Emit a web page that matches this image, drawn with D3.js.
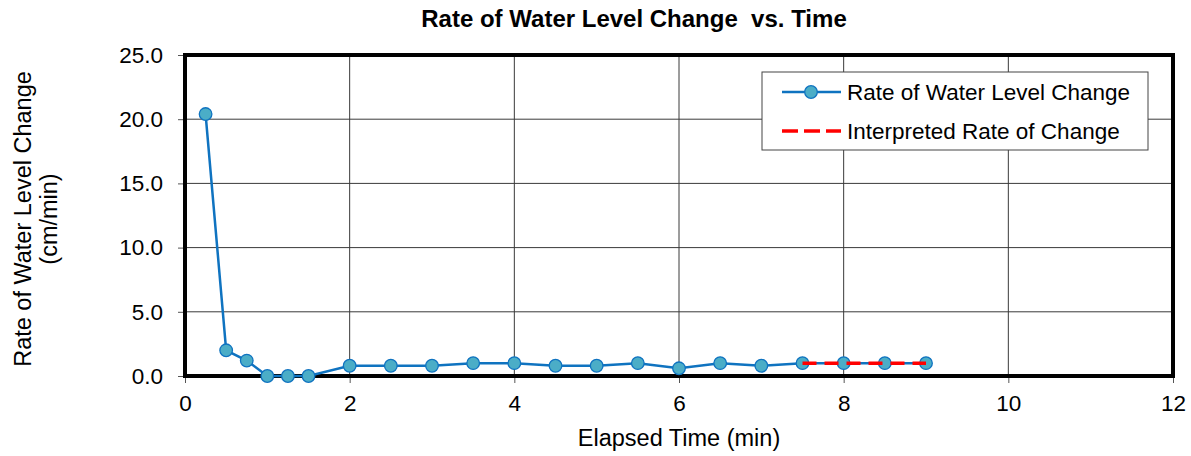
<!DOCTYPE html>
<html lang="en">
<head>
<meta charset="UTF-8" />
<title>Rate of Water Level Change vs. Time</title>
<script src="https://d3js.org/d3.v7.min.js"></script>
<style>
    body { margin: 0; background: #fff; }
    svg text { font-family: Arial, "Liberation Sans", sans-serif; fill: #000; }
</style>
</head>
<body>
<svg id="chart"></svg>
<script>
    const elapsed = [0.25, 0.5, 0.75, 1, 1.25, 1.5, 2, 2.5, 3, 3.5, 4, 4.5, 5, 5.5, 6, 6.5, 7, 7.5, 8, 8.5, 9];
    const rate = [20.4, 2.0, 1.2, 0, 0, 0, 0.8, 0.8, 0.8, 1.0, 1.0, 0.8, 0.8, 1.0, 0.6, 1.0, 0.8, 1.0, 1.0, 1.0, 1.0];
    const interpTime = [7.5, 9];
    const interpRate = [1.0, 1.0];
    const xTicks = [0, 2, 4, 6, 8, 10, 12];
    const yTicks = [0, 5, 10, 15, 20, 25];

    const width = 1191, height = 456;
    const margin = { top: 55, right: 18, bottom: 80, left: 185 };

    const svg = d3.select("#chart").attr("width", width).attr("height", height);

    const x = d3.scaleLinear().domain([0, 12]).range([margin.left, width - margin.right]);
    const y = d3.scaleLinear().domain([0, 25]).range([height - margin.bottom, margin.top]);

    // grid
    svg.append("g")
        .selectAll("line")
        .data(xTicks)
        .join("line")
        .attr("x1", d => x(d)).attr("x2", d => x(d))
        .attr("y1", y(25)).attr("y2", y(0))
        .attr("stroke", "#3a3a3a").attr("stroke-width", 1);

    svg.append("g")
        .selectAll("line")
        .data(yTicks)
        .join("line")
        .attr("x1", x(0)).attr("x2", x(12))
        .attr("y1", d => y(d)).attr("y2", d => y(d))
        .attr("stroke", "#3a3a3a").attr("stroke-width", 1);

    // axes
    const xAxis = svg.append("g")
        .attr("transform", `translate(0,${y(0)})`)
        .call(d3.axisBottom(x).tickValues(xTicks).tickFormat(d3.format("d")).tickSize(7).tickPadding(12));
    const yAxis = svg.append("g")
        .attr("transform", `translate(${x(0)},0)`)
        .call(d3.axisLeft(y).tickValues(yTicks).tickFormat(d3.format(".1f")).tickSize(7).tickPadding(15));

    [xAxis, yAxis].forEach(g => {
        g.select(".domain").remove();
        g.selectAll("line").attr("stroke", "#555");
        g.selectAll("text").attr("font-size", 22.5).attr("fill", "#000");
    });

    // frame
    svg.append("rect")
        .attr("x", x(0)).attr("y", y(25))
        .attr("width", x(12) - x(0)).attr("height", y(0) - y(25))
        .attr("fill", "none").attr("stroke", "#000").attr("stroke-width", 4);

    // series
    const pts = elapsed.map((t, i) => [t, rate[i]]);
    const line = d3.line().x(d => x(d[0])).y(d => y(d[1]));

    svg.append("path")
        .datum(pts)
        .attr("d", line)
        .attr("fill", "none")
        .attr("stroke", "#0f73c0")
        .attr("stroke-width", 2.5);

    svg.append("g")
        .selectAll("circle")
        .data(pts)
        .join("circle")
        .attr("cx", d => x(d[0])).attr("cy", d => y(d[1]))
        .attr("r", 6.3)
        .attr("fill", "#4badc7")
        .attr("stroke", "#0f73c0").attr("stroke-width", 1.3);

    svg.append("path")
        .datum(interpTime.map((t, i) => [t, interpRate[i]]))
        .attr("d", line)
        .attr("fill", "none")
        .attr("stroke", "#ff0000")
        .attr("stroke-width", 3.5)
        .attr("stroke-dasharray", "14,8");

    // legend
    const lg = svg.append("g").attr("transform", "translate(762,72)");
    lg.append("rect").attr("width", 386).attr("height", 78)
        .attr("fill", "#fff").attr("stroke", "#444").attr("stroke-width", 1);
    lg.append("line").attr("x1", 20).attr("x2", 79).attr("y1", 20).attr("y2", 20)
        .attr("stroke", "#0f73c0").attr("stroke-width", 2.5);
    lg.append("circle").attr("cx", 49).attr("cy", 20).attr("r", 6.3)
        .attr("fill", "#4badc7").attr("stroke", "#0f73c0").attr("stroke-width", 1.3);
    lg.append("line").attr("x1", 20).attr("x2", 79).attr("y1", 59).attr("y2", 59)
        .attr("stroke", "#ff0000").attr("stroke-width", 3.5).attr("stroke-dasharray", "16,6");
    lg.selectAll("text.lbl")
        .data(["Rate of Water Level Change", "Interpreted Rate of Change"])
        .join("text")
        .attr("x", 85).attr("y", (d, i) => 20 + i * 39)
        .attr("dy", "0.35em")
        .attr("font-size", 22.5)
        .text(d => d);

    // titles
    svg.append("text")
        .attr("x", 634).attr("y", 27)
        .attr("text-anchor", "middle")
        .attr("font-size", 24).attr("font-weight", "bold")
        .attr("xml:space", "preserve")
        .text("Rate of Water Level Change  vs. Time");

    svg.append("text")
        .attr("x", x(6)).attr("y", 446)
        .attr("text-anchor", "middle")
        .attr("font-size", 23.5)
        .text("Elapsed Time (min)");

    const yl = svg.append("text")
        .attr("transform", `translate(31,219) rotate(-90)`)
        .attr("text-anchor", "middle")
        .attr("font-size", 23.5);
    yl.append("tspan").attr("x", 0).attr("y", 0).text("Rate of Water Level Change");
    yl.append("tspan").attr("x", 0).attr("y", 26).text("(cm/min)");
</script>
</body>
</html>
